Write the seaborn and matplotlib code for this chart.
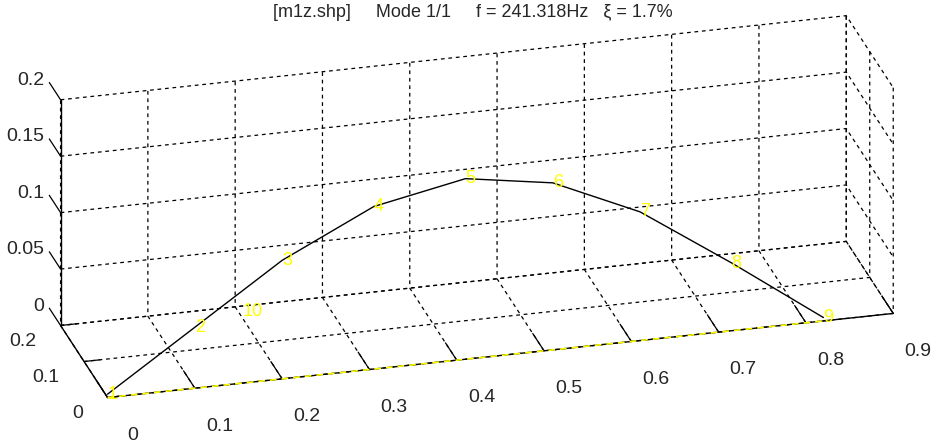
import numpy as np
import matplotlib
matplotlib.use("Agg")
import matplotlib.pyplot as plt
import seaborn as sns

sns.set_theme(style="white")
plt.rcParams['font.family'] = ['Liberation Sans', 'DejaVu Sans']

# ---- data ----
node_ids = ['1', '2', '3', '4', '5', '6', '7', '8', '9', '10']
node_x = [0.0, 0.10, 0.20, 0.305, 0.41, 0.51, 0.61, 0.715, 0.82, 0.205]
node_y = [0.0, 0.0, 0.0, 0.0, 0.0, 0.0, 0.0, 0.0, 0.0, 0.185]
node_z = [0.003, 0.054, 0.105, 0.144, 0.160, 0.148, 0.114, 0.060, 0.003, 0.0]
line_nodes = [0, 1, 2, 3, 4, 5, 6, 7, 8]

x_ticks = [0, 0.1, 0.2, 0.3, 0.4, 0.5, 0.6, 0.7, 0.8, 0.9]
x_labels = ['0', '0.1', '0.2', '0.3', '0.4', '0.5', '0.6', '0.7', '0.8', '0.9']
y_ticks = [0, 0.1, 0.2]
y_labels = ['0', '0.1', '0.2']
z_ticks = [0, 0.05, 0.1, 0.15, 0.2]
z_labels = ['0', '0.05', '0.1', '0.15', '0.2']
title = '[m1z.shp]     Mode 1/1     f = 241.318Hz   \u03be = 1.7%'

fig = plt.figure(figsize=(9.37, 4.44), dpi=100)
s = 1.9
ax = fig.add_axes([0.5 - s / 2 - 0.0032, 0.5 - s / 2 + 0.009, s, s],
                  projection='3d', proj_type='ortho')
ax.set_box_aspect((813, 184, 247))
ax.view_init(elev=23.9, azim=-104.8)

x0, x1 = x_ticks[0], x_ticks[-1]
y0, y1 = y_ticks[0], y_ticks[-1]
z0, z1 = z_ticks[0], z_ticks[-1]
ax.set_xlim(x0, x1)
ax.set_ylim(y0, y1)
ax.set_zlim(z0, z1)
ax.set_xticks(x_ticks)
ax.set_yticks(y_ticks)
ax.set_zticks(z_ticks)
# MATLAB-like: z ticks point along the y direction
ax.zaxis._get_tickdir = lambda position: 1

tick_out = {'x': 3.0, 'y': 0.25, 'z': 3.0}
for name, a in (('x', ax.xaxis), ('y', ax.yaxis), ('z', ax.zaxis)):
    a.set_pane_color((1, 1, 1, 0))
    a.pane.set_edgecolor('none')
    a._axinfo['grid'].update({'color': 'black', 'linewidth': 0.9, 'linestyle': (0, (3, 3))})
    a.line.set_color('black')
    a.line.set_linewidth(1.0)
    a._axinfo['tick']['inward_factor'] = 0.0
    a._axinfo['tick']['outward_factor'] = tick_out[name]
    a._axinfo['tick']['linewidth'] = {True: 0.9, False: 0.6}
    a.set_tick_params(labelbottom=False, labeltop=False, colors='black', width=0.9)
    a.label.set_visible(False)
    a.offsetText.set_visible(False)

# tick labels placed in data coordinates (MATLAB-style positions)
for t, lab in zip(x_ticks, x_labels):
    ax.text(t, y0 - 0.105, z0, lab, fontsize=14, ha='center', va='center')
for t, lab in zip(y_ticks, y_labels):
    ax.text(x0 - 0.028, t, z0 - 0.012, lab, fontsize=14, ha='right', va='center')
for t, lab in zip(z_ticks, z_labels):
    ax.text(x0 - 0.004, y1 + 0.055, t, lab, fontsize=14, ha='right', va='center')

lx = [node_x[i] for i in line_nodes]
ly = [node_y[i] for i in line_nodes]
lz = [node_z[i] for i in line_nodes]
ax.plot(lx, ly, [0] * len(lx), color='#ffff00', linestyle=(0, (4, 3)), linewidth=1.2)
ax.plot(lx, ly, lz, color='black', linewidth=1.0)
for nid, x, y, z in zip(node_ids, node_x, node_y, node_z):
    ax.text(x, y, z, nid, color='#ffff00', fontsize=13, ha='left', va='center')

fig.text(0.505, 0.972, title, ha='center', va='center', fontsize=13)
fig.savefig('out.png', dpi=100)
